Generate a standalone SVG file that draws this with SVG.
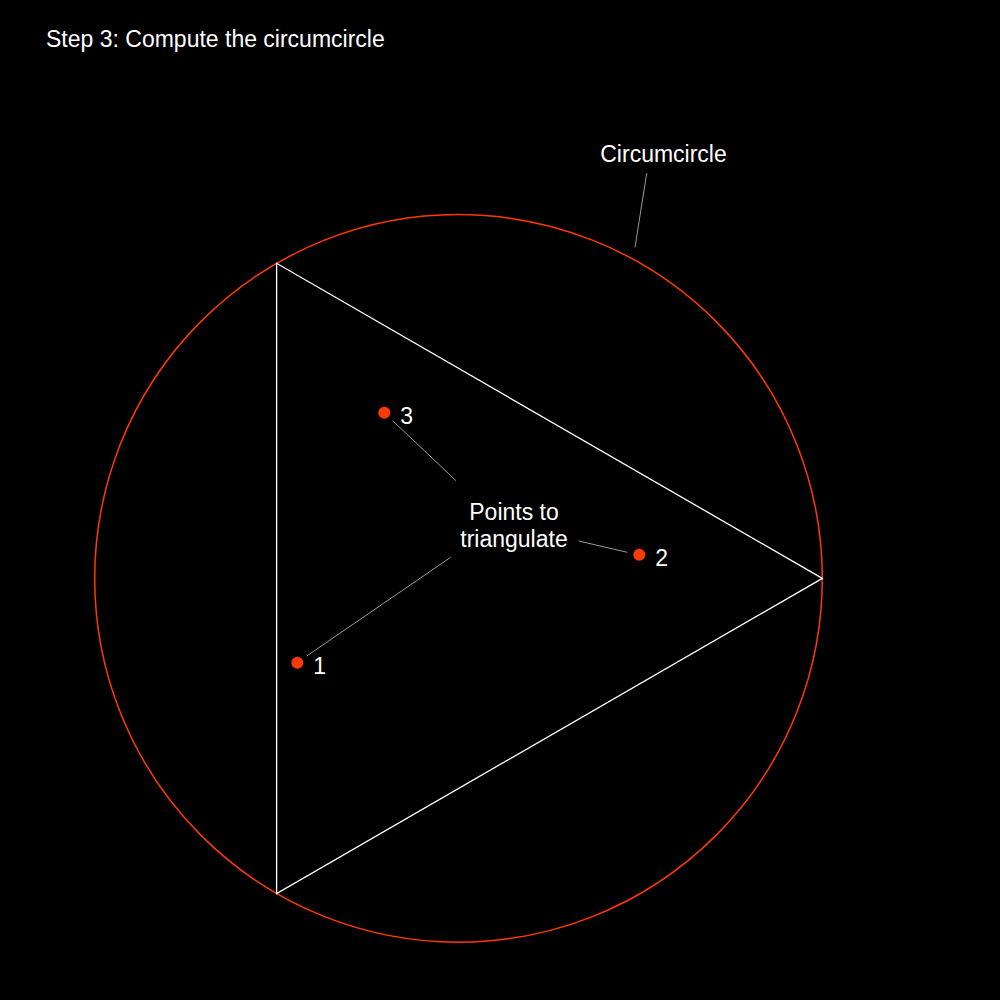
<svg xmlns="http://www.w3.org/2000/svg" width="1000" height="1000" viewBox="0 0 1000 1000">
<style>
text{font-family:"Liberation Sans",Arial,sans-serif;fill:#ffffff;font-size:23px}
.leader{stroke:#9a9a9a;stroke-width:1;fill:none}
.pt{fill:#ff3a00}
</style>
<rect x="0" y="0" width="1000" height="1000" fill="#000000"/>
<text id="title" x="46" y="47">Step 3: Compute the circumcircle</text>
<g id="circumcircle">
<circle cx="458.5" cy="578.4" r="363.8" fill="none" stroke="#ff3a00" stroke-width="1.5"/>
</g>
<g id="triangle">
<polygon points="822.3,578.4 276.6,263.3 276.6,893.5" fill="none" stroke="#ffffff" stroke-width="1.3"/>
</g>
<g id="connectors">
<line class="leader" x1="646.7" y1="173.3" x2="635" y2="247.3"/>
<line class="leader" x1="456" y1="480.7" x2="392.7" y2="420.7"/>
<line class="leader" x1="450.7" y1="557.3" x2="306.7" y2="656"/>
<line class="leader" x1="578.7" y1="541" x2="627.3" y2="552.3"/>
</g>
<g id="point1">
<circle class="pt" cx="297.3" cy="662.7" r="6"/>
<text x="313.3" y="674">1</text>
</g>
<g id="point2">
<circle class="pt" cx="639.3" cy="554.8" r="6"/>
<text x="655.3" y="566">2</text>
</g>
<g id="point3">
<circle class="pt" cx="384.3" cy="412.7" r="6"/>
<text x="400.3" y="424">3</text>
</g>
<g id="label-circumcircle">
<text x="663.5" y="162" text-anchor="middle">Circumcircle</text>
</g>
<g id="label-points">
<text x="514" y="519.5" text-anchor="middle">Points to</text>
<text x="514" y="547" text-anchor="middle">triangulate</text>
</g>
</svg>
